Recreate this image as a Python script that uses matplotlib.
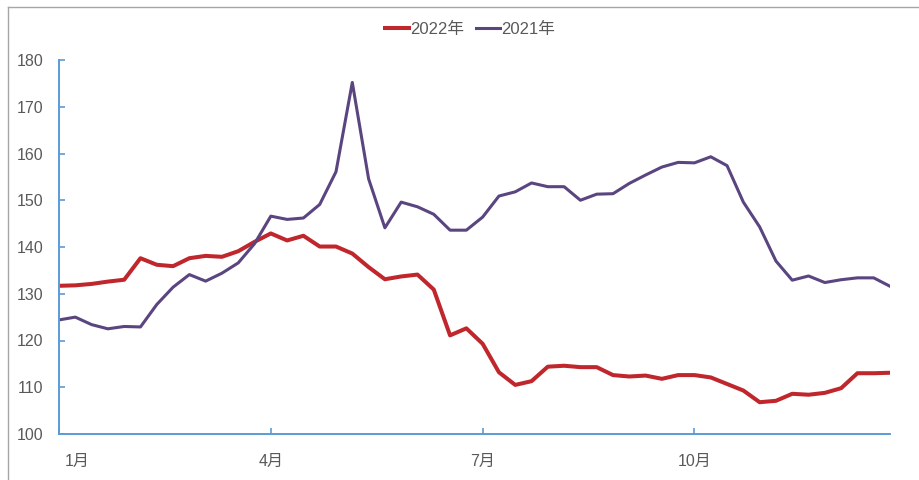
import matplotlib.pyplot as plt
import matplotlib.transforms as mtransforms
from matplotlib.lines import Line2D

plt.rcParams['font.family'] = ['Liberation Sans', 'Noto Sans CJK SC', 'DejaVu Sans']

# weekly index, 52 weeks per year
price_2022 = [131.7, 131.8, 132.1, 132.6, 133.0, 137.6, 136.2, 135.9, 137.6, 138.1,
              137.9, 139.1, 141.1, 142.9, 141.4, 142.4, 140.1, 140.1, 138.6, 135.7,
              133.1, 133.7, 134.1, 130.9, 121.1, 122.6, 119.3, 113.2, 110.5, 111.3,
              114.4, 114.6, 114.3, 114.3, 112.6, 112.3, 112.5, 111.8, 112.6, 112.6,
              112.1, 110.7, 109.3, 106.8, 107.1, 108.6, 108.4, 108.8, 109.8, 113.0,
              113.0, 113.1]
price_2021 = [124.4, 125.0, 123.4, 122.5, 123.0, 122.9, 127.7, 131.4, 134.1, 132.7,
              134.4, 136.6, 140.7, 146.6, 145.9, 146.2, 149.1, 156.1, 175.2, 154.6,
              144.1, 149.6, 148.6, 147.0, 143.6, 143.6, 146.4, 150.9, 151.8, 153.7,
              152.9, 152.9, 150.0, 151.3, 151.4, 153.6, 155.4, 157.1, 158.1, 158.0,
              159.3, 157.4, 149.6, 144.3, 137.0, 132.9, 133.8, 132.4, 133.0, 133.4,
              133.4, 131.6]
month_ticks = [0, 13, 26, 39]
month_labels = ['1月', '4月', '7月', '10月']

red = '#C0272D'
purple = '#5A4580'
axis_blue = '#5B9BD5'
text_gray = '#595959'

fig = plt.figure(figsize=(9.2, 4.8), dpi=100)
ax = fig.add_axes([59 / 920, 1 - 434 / 480, 831 / 920, 374 / 480])

weeks = range(len(price_2022))
ax.plot(weeks, price_2022, color=red, linewidth=2.9, label='2022年', solid_joinstyle='round')
ax.plot(weeks, price_2021, color=purple, linewidth=2.2, label='2021年', solid_joinstyle='round')

ax.set_xlim(0, len(price_2022) - 1)
ax.set_ylim(100, 180)
ax.set_yticks(range(100, 181, 10))
ax.set_xticks(month_ticks)
ax.set_xticklabels(month_labels)

for side in ['top', 'right']:
    ax.spines[side].set_visible(False)
for side in ['left', 'bottom']:
    ax.spines[side].set_color(axis_blue)
    ax.spines[side].set_linewidth(1.4)

ax.tick_params(axis='y', direction='in', length=4, width=1.2, color=axis_blue,
               labelsize=11.5, labelcolor=text_gray, pad=11)
ax.tick_params(axis='x', direction='in', length=4, width=1.2, color=axis_blue,
               labelsize=11.5, labelcolor=text_gray, pad=14)

# first month label sits a little right of the axis corner
first = ax.get_xticklabels()[0]
first.set_transform(first.get_transform() +
                    mtransforms.ScaledTranslation(18 / 100, 0, fig.dpi_scale_trans))

leg = fig.legend(loc='center', bbox_to_anchor=(470 / 920, 1 - 29 / 480), ncol=2,
                 frameon=False, fontsize=12, handlelength=1.45, handletextpad=0.05,
                 columnspacing=0.75)
for t in leg.get_texts():
    t.set_color(text_gray)

# thin frame on the top and left edges
fig.add_artist(Line2D([8 / 920, 1], [1 - 7 / 480, 1 - 7 / 480], color='#A6A6A6', linewidth=1))
fig.add_artist(Line2D([8 / 920, 8 / 920], [0, 1 - 7 / 480], color='#A6A6A6', linewidth=1))

fig.savefig('out.png', dpi=100)
